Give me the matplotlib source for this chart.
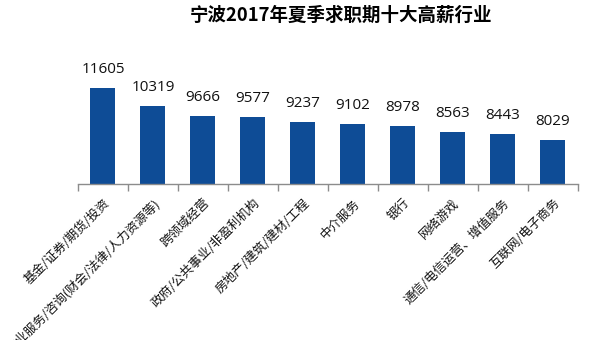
import matplotlib
matplotlib.use("Agg")
import matplotlib.pyplot as plt
import numpy as np

plt.rcParams['font.family'] = ['Noto Sans CJK SC', 'DejaVu Sans']

industries = [
    "基金/证券/期货/投资",
    "专业服务/咨询(财会/法律/人力资源等)",
    "跨领域经营",
    "政府/公共事业/非盈利机构",
    "房地产/建筑/建材/工程",
    "中介服务",
    "银行",
    "网络游戏",
    "通信/电信运营、增值服务",
    "互联网/电子商务",
]
salaries = [11605, 10319, 9666, 9577, 9237, 9102, 8978, 8563, 8443, 8029]
title = "宁波2017年夏季求职期十大高薪行业"

bar_color = "#0E4C96"

fig = plt.figure(figsize=(6, 3.4), dpi=100)
ax = fig.add_axes([0.13, 1 - 184 / 340, 0.833, 124 / 340])

x = np.arange(len(industries))
ax.bar(x, salaries, width=0.5, color=bar_color)
for xi, v in zip(x, salaries):
    ax.annotate(str(v), (xi, v), xytext=(0, 8), textcoords="offset points",
                ha="center", va="bottom", fontsize=11, color="#111111",
                family=["Open Sans", "DejaVu Sans"])

ax.set_ylim(5000, 13500)
ax.set_xlim(-0.5, len(industries) - 0.5)

for s in ["top", "right", "left"]:
    ax.spines[s].set_visible(False)
ax.spines["bottom"].set_color("#8c8c8c")
ax.spines["bottom"].set_linewidth(1.0)
ax.set_yticks([])

ax.set_xticks(x)
ax.set_xticklabels(industries, rotation=45, ha="right", va="top",
                   rotation_mode="anchor", fontsize=9, color="#111111")
ax.tick_params(axis="x", which="major", length=0, pad=9)
ax.set_xticks(np.arange(-0.5, len(industries), 1), minor=True)
ax.tick_params(axis="x", which="minor", length=5, color="#8c8c8c", width=1.0)

fig.text(0.568, 1 - 15 / 340, title, ha="center", va="center",
         fontsize=13.3, fontweight="bold", color="#000000")

fig.savefig("out.png", dpi=100, facecolor="white")
